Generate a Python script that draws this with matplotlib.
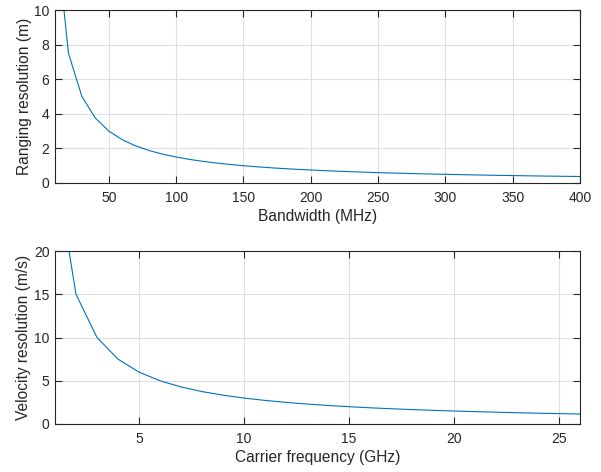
import matplotlib
matplotlib.use("Agg")
import matplotlib.pyplot as plt

plt.rcParams["font.family"] = ["Liberation Sans", "DejaVu Sans"]
plt.rcParams["font.size"] = 10

# bandwidth (MHz) and ranging resolution (m)
bandwidth = list(range(10, 410, 10))
range_res = [15, 7.5, 5, 3.75, 3, 2.5, 2.143, 1.875, 1.667, 1.5,
             1.364, 1.25, 1.154, 1.071, 1.0, 0.9375, 0.882, 0.833, 0.789, 0.75,
             0.714, 0.682, 0.652, 0.625, 0.6, 0.577, 0.556, 0.536, 0.517, 0.5,
             0.484, 0.469, 0.455, 0.441, 0.429, 0.417, 0.405, 0.395, 0.385, 0.375]

# carrier frequency (GHz) and velocity resolution (m/s)
carrier = list(range(1, 27))
vel_res = [30, 15, 10, 7.5, 6, 5, 4.286, 3.75, 3.333, 3.0,
           2.727, 2.5, 2.308, 2.143, 2.0, 1.875, 1.765, 1.667, 1.579, 1.5,
           1.429, 1.364, 1.304, 1.25, 1.2, 1.154]

line_col = "#0072BD"
dark = "#262626"
lab_fs = 11.2

fig = plt.figure(figsize=(6.01, 4.72), dpi=100)
ax1 = fig.add_axes([0.0915, 0.6123, 0.8735, 0.3665])
ax2 = fig.add_axes([0.0915, 0.1017, 0.8735, 0.3665])


def style(ax):
    ax.grid(True, color="#dfdfdf", linewidth=0.8)
    ax.set_axisbelow(True)
    for s in ax.spines.values():
        s.set_color(dark)
        s.set_linewidth(0.8)
    ax.tick_params(direction="in", length=5, width=0.8, color=dark,
                   labelcolor=dark, top=True, right=True, labelsize=10)
    ax.tick_params(axis="x", pad=6)
    ax.tick_params(axis="y", pad=4)
    ax.xaxis.label.set_color(dark)
    ax.yaxis.label.set_color(dark)


ax1.plot(bandwidth, range_res, color=line_col, linewidth=0.8)
ax1.set_xlim(10, 400)
ax1.set_ylim(0, 10)
ax1.set_xticks(range(50, 401, 50))
ax1.set_yticks(range(0, 11, 2))
ax1.set_xlabel("Bandwidth (MHz)", fontsize=lab_fs, labelpad=3)
ax1.set_ylabel("Ranging resolution (m)", fontsize=lab_fs, labelpad=1.8)
style(ax1)

ax2.plot(carrier, vel_res, color=line_col, linewidth=0.8)
ax2.set_xlim(1, 26)
ax2.set_ylim(0, 20)
ax2.set_xticks(range(5, 26, 5))
ax2.set_yticks(range(0, 21, 5))
ax2.set_xlabel("Carrier frequency (GHz)", fontsize=lab_fs, labelpad=3)
ax2.set_ylabel("Velocity resolution (m/s)", fontsize=lab_fs, labelpad=1.8)
style(ax2)

fig.savefig("out.png", dpi=100)
